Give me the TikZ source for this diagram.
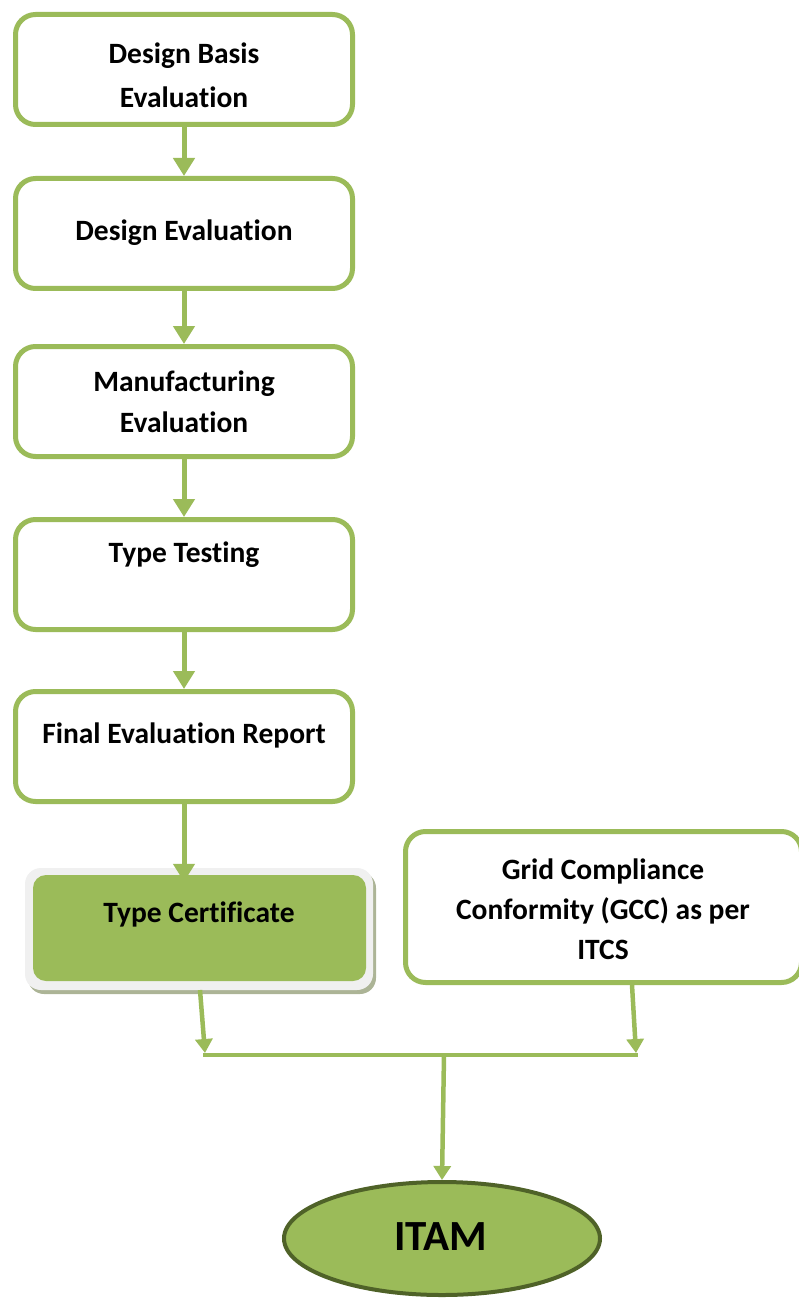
\documentclass[tikz,border=0pt]{standalone}
\usepackage{fontspec}
\setmainfont{Carlito}[Ligatures=CommonOff]
\usetikzlibrary{arrows.meta,shapes.geometric}
\definecolor{gr}{RGB}{155,187,89}
\definecolor{dgr}{RGB}{79,98,40}
\definecolor{lgray}{RGB}{240,240,240}
\definecolor{shad}{RGB}{172,180,150}
\tikzset{
  stepbox/.style={draw=gr, line width=5pt, rounded corners=20pt, fill=white,
    minimum width=337pt, minimum height=110pt, inner sep=0pt},
  lbl/.style={font=\fontsize{29.5}{44}\selectfont\bfseries, align=center, inner sep=0pt},
  conn/.style={draw=gr, line width=5pt},
  arr/.style={conn, -{Triangle[width=21pt,length=18pt]}},
  sarr/.style={conn, line width=4.5pt, -{Triangle[width=17pt,length=14pt]}},
}
\begin{document}
\begin{tikzpicture}[x=1pt,y=-1pt]
\useasboundingbox (0,0) rectangle (798,1305);
% step boxes
\node[stepbox] (b1) at (184,69.5) {};
\node[stepbox] (b2) at (184,233.5) {};
\node[stepbox] (b3) at (184,401.5) {};
\node[stepbox] (b4) at (184,574.5) {};
\node[stepbox] (b5) at (184,746.5) {};
\node[lbl] (t1) at (184,75) {Design Basis\\Evaluation};
\node[lbl, font=\fontsize{29.5}{41}\selectfont\bfseries] (t3) at (184,402) {Manufacturing\\Evaluation};
\node[lbl] (t2) at (184,233) {Design Evaluation};
\node[lbl] (t4) at (184,555) {Type Testing};
\node[lbl] (t5) at (184,735) {Final Evaluation Report};
% type certificate
\fill[shad, rounded corners=16pt] (28,872) rectangle (376,994);
\fill[lgray, rounded corners=16pt] (25,868) rectangle (373,990);
\node[fill=gr, rounded corners=13pt, minimum width=333pt, minimum height=106pt, inner sep=0pt] (tc) at (199.5,928) {};
\node[lbl] (tct) at (199,914) {Type Certificate};
% GCC box
\node[stepbox, minimum width=396pt, minimum height=151pt] (gcc) at (603.5,907) {};
\node[lbl, font=\fontsize{29.5}{40}\selectfont\bfseries] (gcct) at (603,909) {Grid Compliance\\Conformity (GCC) as per\\ITCS};
% ITAM ellipse
\node[ellipse, draw=dgr, line width=4pt, fill=gr, minimum width=316pt, minimum height=113pt, inner sep=0pt] (itam) at (442,1238.5) {};
\node[font=\fontsize{43}{45}\selectfont\bfseries, inner sep=0pt] (itamt) at (441,1237) {ITAM};
% junction coordinates
\coordinate (jl) at (205,1055);
\coordinate (jr) at (636,1055);
\coordinate (jm) at (444,1055);
\coordinate (tcs) at (200,990);
\coordinate (gccs) at (632,985);
% connectors
\draw[arr] (b1.south) -- (b2.north);
\draw[arr] (b2.south) -- (b3.north);
\draw[arr] (b3.south) -- (b4.north);
\draw[arr] (b4.south) -- (b5.north);
\draw[arr] (b5.south) -- ([yshift=-7pt]tc.north -| b5.south);
\draw[sarr] (tcs) -- ([yshift=2pt]jl);
\draw[sarr] (gccs) -- ([yshift=2pt]jr);
\draw[conn, line width=4.5pt] ([xshift=-2pt]jl) -- ([xshift=2pt]jr);
\draw[sarr] (jm) -- (itam.north);
\end{tikzpicture}
\end{document}
